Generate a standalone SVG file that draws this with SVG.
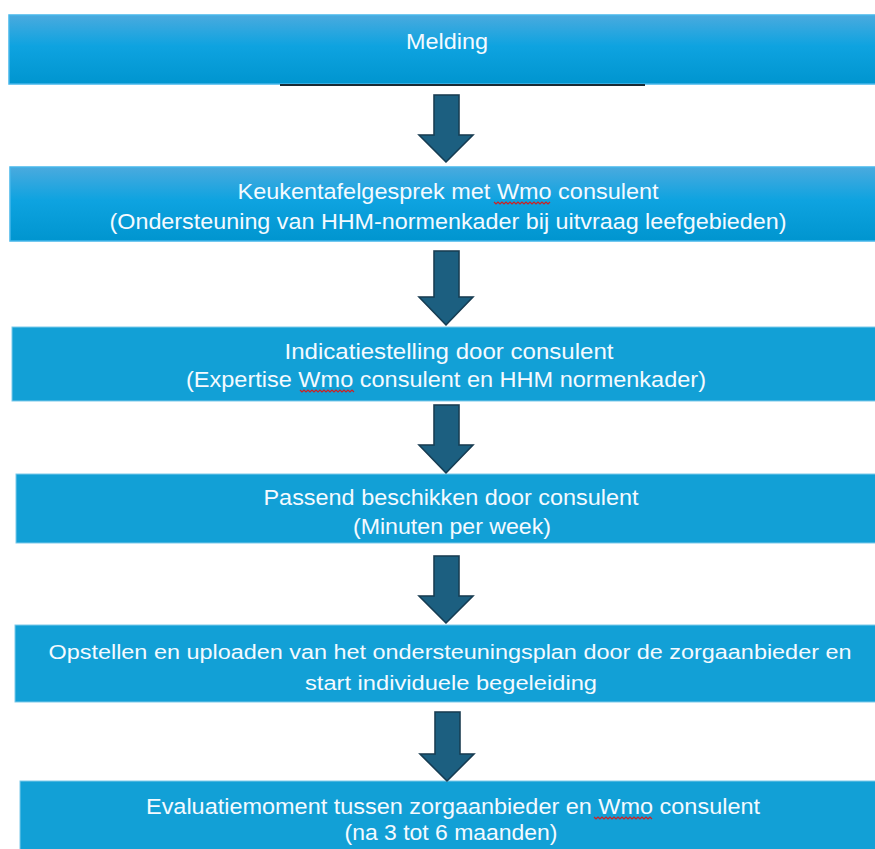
<svg xmlns="http://www.w3.org/2000/svg" width="875" height="849" viewBox="0 0 875 849">
  <defs>
    <linearGradient id="gradBox" x1="0" y1="0" x2="0" y2="1">
      <stop offset="0" stop-color="#4aaade"/>
      <stop offset="0.45" stop-color="#0ea3e0"/>
      <stop offset="1" stop-color="#0095cf"/>
    </linearGradient>
    <filter id="glow" x="-20%" y="-20%" width="140%" height="140%">
      <feGaussianBlur in="SourceAlpha" stdDeviation="1.2"/>
      <feFlood flood-color="#6a8898" flood-opacity="0.6"/>
      <feComposite operator="in" in2="SourceGraphic"/>
      <feMerge>
        <feMergeNode/>
        <feMergeNode in="SourceGraphic"/>
      </feMerge>
    </filter>
  </defs>
  <style>
    .gbox { fill: url(#gradBox); stroke: #45b6ea; stroke-width: 1.5; }
    .sbox { fill: #12a0d6; stroke: #7cc9ea; stroke-width: 1; }
    .lbl { font-family: "Liberation Sans", Arial, sans-serif; font-size: 20px; fill: #f4faff; text-anchor: middle; }
    .narrow { font-size: 22px; }
    .arrow { fill: #1a5e80; stroke: #153c52; stroke-width: 1.5; stroke-linejoin: miter; filter: url(#glow); }
    .squig { fill: none; stroke: #d02020; stroke-width: 1.2; }
  </style>
  <rect width="875" height="849" fill="#ffffff"/>

  <g id="node-melding">
    <rect class="gbox" x="9" y="15" width="880" height="69"/>
    <line x1="280" y1="85" x2="645" y2="85" stroke="#1a2a33" stroke-width="2"/>
    <text class="lbl narrow" x="447" y="49" textLength="82" lengthAdjust="spacingAndGlyphs">Melding</text>
  </g>

  <g id="node-keukentafel">
    <rect class="gbox" x="10" y="167" width="880" height="74"/>
    <text class="lbl narrow" x="448" y="199" textLength="421" lengthAdjust="spacingAndGlyphs">Keukentafelgesprek met Wmo consulent</text>
    <text class="lbl narrow" x="448" y="229" textLength="677" lengthAdjust="spacingAndGlyphs">(Ondersteuning van HHM-normenkader bij uitvraag leefgebieden)</text>
    <path class="squig" d="M494,202 l2,2 l2,-2 l2,2 l2,-2 l2,2 l2,-2 l2,2 l2,-2 l2,2 l2,-2 l2,2 l2,-2 l2,2 l2,-2 l2,2 l2,-2 l2,2 l2,-2 l2,2 l2,-2 l2,2 l2,-2 l2,2 l2,-2 l2,2 l2,-2 l2,2 l2,-2"/>
  </g>

  <g id="node-indicatie">
    <rect class="sbox" x="12" y="327" width="880" height="74"/>
    <text class="lbl narrow" x="449" y="359" textLength="329" lengthAdjust="spacingAndGlyphs">Indicatiestelling door consulent</text>
    <text class="lbl narrow" x="446" y="387" textLength="520" lengthAdjust="spacingAndGlyphs">(Expertise Wmo consulent en HHM normenkader)</text>
    <path class="squig" d="M300,390 l2,2 l2,-2 l2,2 l2,-2 l2,2 l2,-2 l2,2 l2,-2 l2,2 l2,-2 l2,2 l2,-2 l2,2 l2,-2 l2,2 l2,-2 l2,2 l2,-2 l2,2 l2,-2 l2,2 l2,-2 l2,2 l2,-2 l2,2 l2,-2 l2,2"/>
  </g>

  <g id="node-beschikken">
    <rect class="sbox" x="16" y="474" width="880" height="69"/>
    <text class="lbl narrow" x="451" y="505" textLength="375" lengthAdjust="spacingAndGlyphs">Passend beschikken door consulent</text>
    <text class="lbl narrow" x="452" y="534" textLength="198" lengthAdjust="spacingAndGlyphs">(Minuten per week)</text>
  </g>

  <g id="node-ondersteuningsplan">
    <rect class="sbox" x="15" y="625" width="880" height="77"/>
    <text class="lbl" x="450" y="659" textLength="803" lengthAdjust="spacingAndGlyphs">Opstellen en uploaden van het ondersteuningsplan door de zorgaanbieder en</text>
    <text class="lbl" x="451" y="690" textLength="292" lengthAdjust="spacingAndGlyphs">start individuele begeleiding</text>
  </g>

  <g id="node-evaluatie">
    <rect class="sbox" x="20" y="781" width="880" height="80"/>
    <text class="lbl narrow" x="453" y="814" textLength="614" lengthAdjust="spacingAndGlyphs">Evaluatiemoment tussen zorgaanbieder en Wmo consulent</text>
    <text class="lbl narrow" x="451" y="840" textLength="213" lengthAdjust="spacingAndGlyphs">(na 3 tot 6 maanden)</text>
    <path class="squig" d="M594,817 l2,2 l2,-2 l2,2 l2,-2 l2,2 l2,-2 l2,2 l2,-2 l2,2 l2,-2 l2,2 l2,-2 l2,2 l2,-2 l2,2 l2,-2 l2,2 l2,-2 l2,2 l2,-2 l2,2 l2,-2 l2,2 l2,-2 l2,2 l2,-2 l2,2 l2,-2 l2,2"/>
  </g>

  <g id="connectors">
    <polygon class="arrow" points="434,95 459,95 459,135 473,135 446,162 419,135 434,135"/>
    <polygon class="arrow" points="434,251 459,251 459,297 473,297 446,325 419,297 434,297"/>
    <polygon class="arrow" points="434,405 459,405 459,445 473,445 446,473 419,445 434,445"/>
    <polygon class="arrow" points="434,556 459,556 459,596 473,596 446,623 419,596 434,596"/>
    <polygon class="arrow" points="435,712 460,712 460,754 474,754 447,781 420,754 435,754"/>
  </g>
</svg>
